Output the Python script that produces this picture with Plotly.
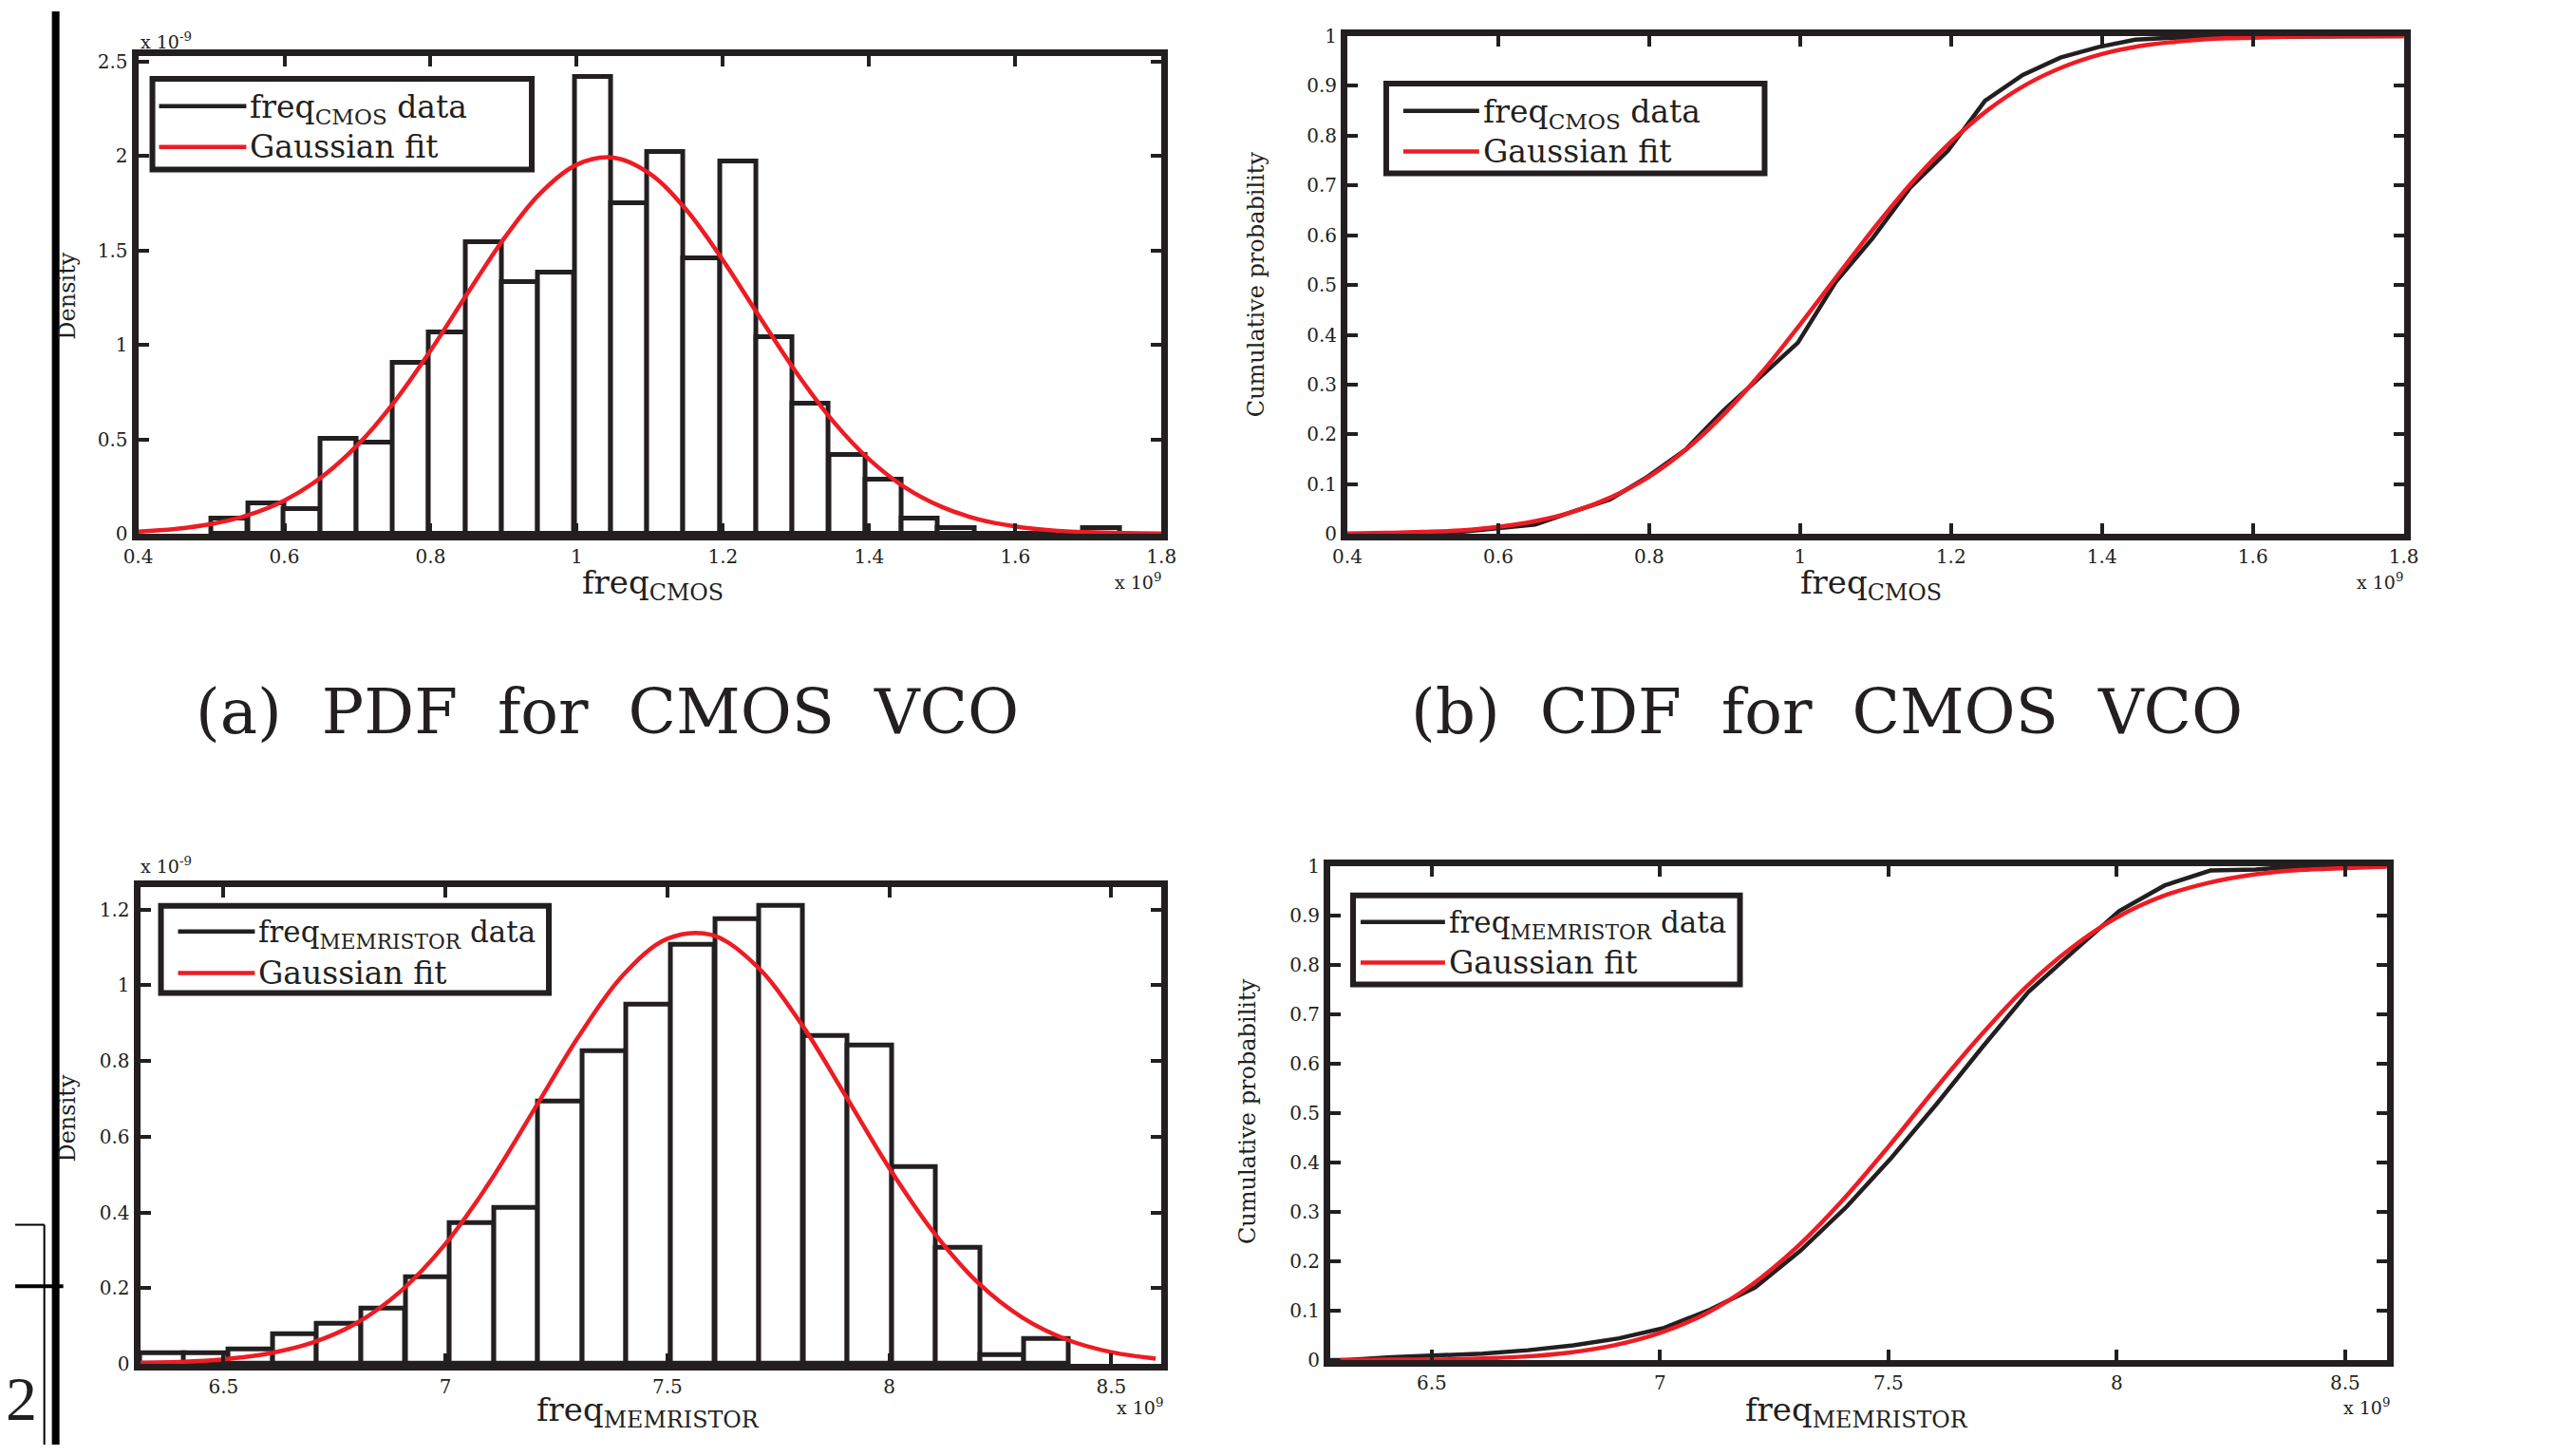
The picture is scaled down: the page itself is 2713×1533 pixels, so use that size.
import plotly.graph_objects as go

W, H = 2713, 1533
BLACK = "#231F20"
RED = "#ED1C24"
SERIF = "DejaVu Serif"
# the photographed page comes out slightly inset; positions are pre-compensated
SX, OX = 0.9894, 15.3
SY, OY = 0.9879, 7.85

# ---------------- data (x in units of 1e9 Hz, density in units of 1e-9) ----------------
# (a) CMOS VCO histogram
cmos_bin_width = 0.0497
cmos_bin_centers = [0.525, 0.575, 0.624, 0.674, 0.724, 0.773, 0.823, 0.873, 0.922, 0.972,
                    1.022, 1.072, 1.121, 1.171, 1.221, 1.270, 1.320, 1.370, 1.420, 1.469,
                    1.519, 1.569, 1.618, 1.668, 1.718]
cmos_density = [0.08, 0.164, 0.134, 0.505, 0.484, 0.906, 1.067, 1.545, 1.331, 1.382,
                 2.42, 1.75, 2.02, 1.46, 1.97, 1.04, 0.69, 0.42, 0.29, 0.08,
                 0.03, 0.0, 0.0, 0.0, 0.03]
cmos_fit_x = [0.40, 0.45, 0.50, 0.55, 0.60, 0.65, 0.70, 0.75, 0.80, 0.85, 0.90, 0.95, 1.00, 1.05,
              1.10, 1.15, 1.20, 1.25, 1.30, 1.35, 1.40, 1.45, 1.50, 1.55, 1.60, 1.65, 1.70, 1.75, 1.80]
cmos_fit_pdf = [0.012, 0.026, 0.052, 0.099, 0.177, 0.298, 0.470, 0.697, 0.971, 1.270, 1.561, 1.803,
                1.955, 1.992, 1.907, 1.715, 1.449, 1.150, 0.857, 0.600, 0.395, 0.244, 0.142, 0.077,
                0.040, 0.019, 0.009, 0.004, 0.002]
# (b) CMOS VCO CDF
cmos_ecdf_x = [0.400, 0.500, 0.550, 0.599, 0.649, 0.699, 0.748, 0.798, 0.848, 0.898, 0.947, 0.997,
               1.047, 1.096, 1.146, 1.196, 1.245, 1.295, 1.345, 1.395, 1.444, 1.494, 1.544, 1.693,
               1.743, 1.800]
cmos_ecdf_y = [0.0, 0.0, 0.004, 0.012, 0.019, 0.045, 0.069, 0.115, 0.169, 0.247, 0.314, 0.384,
               0.506, 0.594, 0.696, 0.770, 0.870, 0.922, 0.957, 0.978, 0.993, 0.997, 0.998, 0.998,
               1.0, 1.0]
cmos_fit_cdf = [0.001, 0.002, 0.004, 0.007, 0.014, 0.026, 0.045, 0.074, 0.115, 0.171, 0.242, 0.326,
                0.421, 0.520, 0.618, 0.709, 0.788, 0.853, 0.903, 0.939, 0.964, 0.980, 0.989, 0.995,
                0.997, 0.999, 1.0, 1.0, 1.0]
# (c) memristor VCO histogram
mem_bin_width = 0.0996
mem_bin_centers = [6.362, 6.461, 6.561, 6.661, 6.760, 6.860, 6.960, 7.059, 7.159, 7.258, 7.358,
                   7.458, 7.557, 7.657, 7.756, 7.856, 7.956, 8.055, 8.155, 8.254, 8.354]
mem_density = [0.027, 0.027, 0.038, 0.079, 0.106, 0.147, 0.228, 0.372, 0.412, 0.692, 0.825,
               0.948, 1.106, 1.175, 1.211, 0.866, 0.840, 0.519, 0.306, 0.024, 0.066]
mem_fit_x = [6.3, 6.4, 6.5, 6.6, 6.7, 6.8, 6.9, 7.0, 7.1, 7.2, 7.3, 7.4, 7.5, 7.6, 7.7, 7.8,
             7.9, 8.0, 8.1, 8.2, 8.3, 8.4, 8.5, 8.6]
mem_fit_pdf = [0.002, 0.005, 0.012, 0.027, 0.056, 0.108, 0.193, 0.317, 0.481, 0.672, 0.865, 1.027,
               1.123, 1.133, 1.052, 0.901, 0.711, 0.517, 0.347, 0.214, 0.122, 0.064, 0.031, 0.014]
# (d) memristor VCO CDF
mem_ecdf_x = [6.278, 6.312, 6.412, 6.511, 6.611, 6.711, 6.810, 6.910, 7.009, 7.109, 7.208, 7.308,
              7.408, 7.507, 7.607, 7.707, 7.806, 7.906, 8.005, 8.105, 8.205, 8.304, 8.404, 8.591]
mem_ecdf_y = [0.0, 0.0, 0.006, 0.009, 0.013, 0.020, 0.030, 0.044, 0.065, 0.102, 0.147, 0.222,
              0.310, 0.410, 0.520, 0.635, 0.745, 0.828, 0.909, 0.961, 0.991, 0.993, 1.0, 1.0]
mem_fit_cdf = [0.000, 0.001, 0.001, 0.003, 0.007, 0.015, 0.030, 0.055, 0.094, 0.152, 0.229, 0.324,
               0.432, 0.546, 0.655, 0.754, 0.834, 0.896, 0.939, 0.966, 0.983, 0.992, 0.996, 0.999]

# tick values / labels
cmos_x_tickvals = [0.4, 0.6, 0.8, 1.0, 1.2, 1.4, 1.6, 1.8]
cmos_x_ticktext = ["0.4", "0.6", "0.8", "1", "1.2", "1.4", "1.6", "1.8"]
cmos_pdf_tickvals = [0, 0.5, 1, 1.5, 2, 2.5]
cmos_pdf_ticktext = ["0", "0.5", "1", "1.5", "2", "2.5"]
cdf_tickvals = [0, 0.1, 0.2, 0.3, 0.4, 0.5, 0.6, 0.7, 0.8, 0.9, 1.0]
cdf_ticktext = ["0", "0.1", "0.2", "0.3", "0.4", "0.5", "0.6", "0.7", "0.8", "0.9", "1"]
mem_x_tickvals = [6.5, 7.0, 7.5, 8.0, 8.5]
mem_x_ticktext = ["6.5", "7", "7.5", "8", "8.5"]
mem_pdf_tickvals = [0, 0.2, 0.4, 0.6, 0.8, 1.0, 1.2]
mem_pdf_ticktext = ["0", "0.2", "0.4", "0.6", "0.8", "1", "1.2"]

# text
cmos_data_label = "freq<sub>CMOS</sub> data"
mem_data_label = "freq<sub>MEMRISTOR</sub> data"
fit_label = "Gaussian fit"
cmos_xlabel = "freq<sub>CMOS</sub>"
mem_xlabel = "freq<sub>MEMRISTOR</sub>"
pdf_ylabel = "Density"
cdf_ylabel = "Cumulative probability"
NB = "\u00a0"
caption_a = NB.join(["(a)", "PDF", "for", "CMOS", "VCO"]).replace(NB, " " + NB)
caption_b = NB.join(["(b)", "CDF", "for", "CMOS", "VCO"]).replace(NB, " " + NB)

# ---------------- figure ----------------
fig = go.Figure()


def add_hist(centers, dens, width, xa, ya):
    fig.add_trace(go.Bar(x=centers, y=dens, width=[width] * len(centers),
                         marker=dict(color="white", line=dict(color=BLACK, width=5)),
                         xaxis=xa, yaxis=ya, hoverinfo="skip"))


def add_line(xs, ys, color, xa, ya, shape="linear"):
    fig.add_trace(go.Scatter(x=xs, y=ys, mode="lines",
                             line=dict(color=color, width=4.5, shape=shape, smoothing=1.0),
                             xaxis=xa, yaxis=ya, hoverinfo="skip"))


add_hist(cmos_bin_centers, cmos_density, cmos_bin_width, "x", "y")
add_line(cmos_fit_x, cmos_fit_pdf, RED, "x", "y", "spline")

add_line(cmos_ecdf_x, cmos_ecdf_y, BLACK, "x2", "y2")
add_line(cmos_fit_x, cmos_fit_cdf, RED, "x2", "y2", "spline")

add_hist(mem_bin_centers, mem_density, mem_bin_width, "x3", "y3")
add_line(mem_fit_x, mem_fit_pdf, RED, "x3", "y3", "spline")

add_line(mem_ecdf_x, mem_ecdf_y, BLACK, "x4", "y4")
add_line(mem_fit_x, mem_fit_cdf, RED, "x4", "y4", "spline")


def px(x):
    v = ((x - OX) / SX) / W
    return min(max(v, 0.0), 1.0)


def py(y):
    v = 1 - ((y - OY) / SY) / H
    return min(max(v, 0.0), 1.0)


def dx(a, b):
    return [px(a), px(b)]


def dy(top, bottom):
    return [py(bottom), py(top)]


def axis(domain, rng, tv, tt, anchor):
    return dict(domain=domain, range=rng, tickvals=tv, ticktext=tt, anchor=anchor,
                showline=True, linecolor=BLACK, linewidth=7, mirror="ticks",
                ticks="inside", ticklen=11, tickwidth=4, tickcolor=BLACK,
                showgrid=False, zeroline=False,
                tickfont=dict(family=SERIF, size=20, color=BLACK))


fig.update_layout(
    width=W, height=H, margin=dict(l=0, r=0, t=0, b=0),
    paper_bgcolor="white", plot_bgcolor="white", showlegend=False, bargap=0,
    font=dict(family=SERIF, color=BLACK),
    xaxis=axis(dx(145, 1224), [0.4, 1.8], cmos_x_tickvals, cmos_x_ticktext, "y"),
    yaxis=axis(dy(55, 560), [0, 2.53], cmos_pdf_tickvals, cmos_pdf_ticktext, "x"),
    xaxis2=axis(dx(1420, 2534), [0.4, 1.8], cmos_x_tickvals, cmos_x_ticktext, "y2"),
    yaxis2=axis(dy(34, 560), [0, 1], cdf_tickvals, cdf_ticktext, "x2"),
    xaxis3=axis(dx(147, 1224), [6.312, 8.613], mem_x_tickvals, mem_x_ticktext, "y3"),
    yaxis3=axis(dy(933, 1437), [0, 1.26], mem_pdf_tickvals, mem_pdf_ticktext, "x3"),
    xaxis4=axis(dx(1402, 2516), [6.278, 8.591], mem_x_tickvals, mem_x_ticktext, "y4"),
    yaxis4=axis(dy(911, 1433), [0, 1], cdf_tickvals, cdf_ticktext, "x4"),
)

shapes = []
annotations = []


def ann(text, x, y, size, xanchor="center", yanchor="middle", angle=0, family=SERIF):
    annotations.append(dict(text=text, x=px(x), y=py(y), xref="paper", yref="paper",
                            showarrow=False, xanchor=xanchor, yanchor=yanchor,
                            textangle=angle, font=dict(family=family, size=size, color=BLACK)))


def seg(x0, y0, x1, y1, color=BLACK, width=4.5):
    shapes.append(dict(type="line", xref="paper", yref="paper",
                       x0=px(x0), y0=py(y0), x1=px(x1), y1=py(y1),
                       line=dict(color=color, width=width)))


def legend(x0, y0, x1, y1, lx0, lx1, r1, r2, label1, size1):
    shapes.append(dict(type="rect", xref="paper", yref="paper",
                       x0=px(x0), y0=py(y0), x1=px(x1), y1=py(y1),
                       line=dict(color=BLACK, width=6), fillcolor="white"))
    seg(lx0, r1, lx1, r1, BLACK)
    seg(lx0, r2, lx1, r2, RED)
    ann(label1, lx1 + 2, r1 + 3, size1, xanchor="left")
    ann(fit_label, lx1 + 2, r2, 33, xanchor="left")


legend(160, 79, 560, 175, 167, 259, 108, 151, cmos_data_label, 33)
legend(1461, 84, 1860, 179, 1479, 1559, 113, 156, cmos_data_label, 33)
legend(169, 953, 578, 1045, 187, 268, 980, 1024, mem_data_label, 31)
legend(1426, 942, 1834, 1036, 1434, 1523, 970, 1013, mem_data_label, 31)

# axis titles
ann(cmos_xlabel, 688, 614, 34)
ann(cmos_xlabel, 1972, 614, 34)
ann(mem_xlabel, 683, 1488, 34)
ann(mem_xlabel, 1957, 1488, 34)
ann(pdf_ylabel, 70, 308, 24, angle=-90)
ann(pdf_ylabel, 70, 1177, 24, angle=-90)
ann(cdf_ylabel, 1324, 296, 24, angle=-90)
ann(cdf_ylabel, 1315, 1170, 24, angle=-90)

# exponent labels
ann("x 10<sup>-9</sup>", 145, 39, 19, xanchor="left")
ann("x 10<sup>9</sup>", 1226, 610, 19, xanchor="right")
ann("x 10<sup>9</sup>", 2535, 610, 19, xanchor="right")
ann("x 10<sup>-9</sup>", 145, 910, 19, xanchor="left")
ann("x 10<sup>9</sup>", 1228, 1482, 19, xanchor="right")
ann("x 10<sup>9</sup>", 2521, 1482, 19, xanchor="right")

# captions
ann(caption_a, 640, 748, 66)
ann(caption_b, 1926, 748, 66)

# page artefacts (margin rule, box and page number)
seg(58, 0, 58, H, "#000000", 8)
seg(0, 1290, 46, 1290, "#000000", 2)
seg(46, 1290, 46, H, "#000000", 2)
seg(0, 1355, 66, 1355, "#000000", 4)
ann("2", 22, 1474, 66, family="Liberation Serif")

fig.update_layout(shapes=shapes, annotations=annotations)

page_fix = (
    "var s=document.createElement('style');"
    "s.textContent='html,body{margin:0!important;padding:0!important;overflow:hidden!important;}';"
    "document.head.appendChild(s);"
)

fig.write_html("out.html", config={"displayModeBar": False}, post_script=page_fix)
